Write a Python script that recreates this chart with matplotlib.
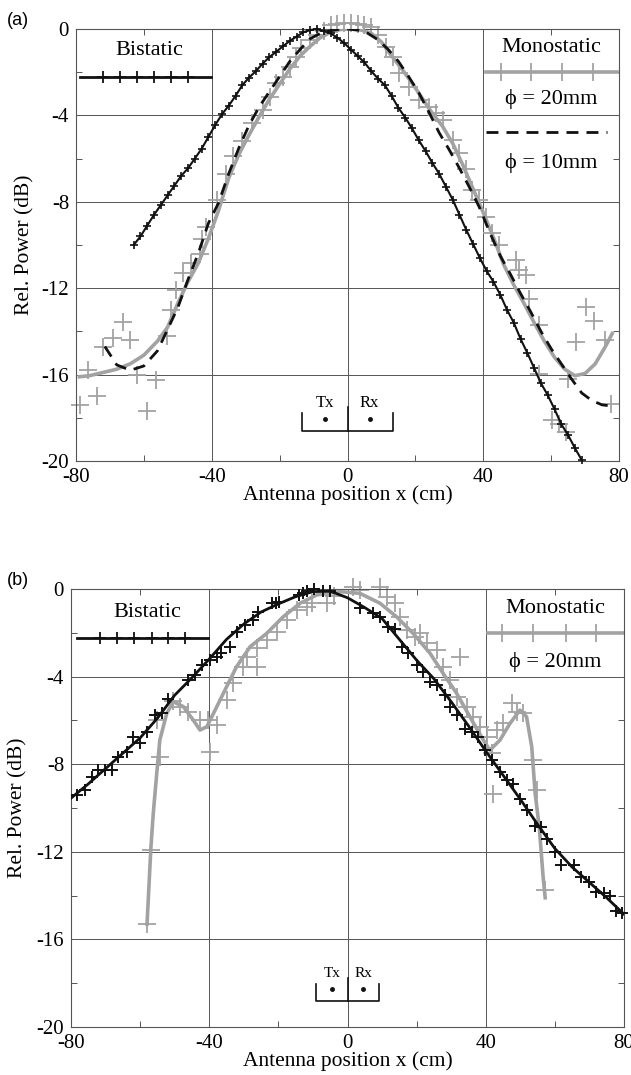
"""Bistatic vs monostatic antenna scans: relative received power vs antenna position.

Two panels: (a) phi = 20 mm and 10 mm targets, (b) phi = 20 mm target only.
Writes out.png (631 x 1075 px).
"""

import matplotlib.pyplot as plt

plt.rcParams["font.family"] = ["Liberation Serif", "DejaVu Serif"]
plt.rcParams["axes.unicode_minus"] = False

BLACK = "#111111"
GREY = "#a2a2a2"
GRID = "#555555"

# ---------------------------------------------------------------- panel (a)
# bistatic measurement (black +, joined by the fit line)
bi_a_x = [-63, -61, -59, -57, -55, -53, -51, -49, -47, -45, -43, -41, -39, -37,
          -35, -33, -31, -29, -27, -25, -23, -21, -19, -17, -15, -13, -11, -9,
          -7, -5, -3, -1, 1, 3, 5, 7, 9, 11, 13, 15, 17, 19, 21, 23, 25, 27, 29,
          31, 33, 35, 37, 39, 41, 43, 45, 47, 49, 51, 53, 55, 57, 59, 61, 63,
          65, 67, 69]
bi_a_y = [-10.0, -9.6, -9.1, -8.6, -8.15, -7.7, -7.25, -6.8, -6.45, -6.0, -5.55,
          -5.0, -4.45, -3.95, -3.55, -3.1, -2.6, -2.25, -1.95, -1.6, -1.3, -1.05,
          -0.8, -0.55, -0.35, -0.15, -0.05, 0.0, -0.1, -0.2, -0.4, -0.65, -0.95,
          -1.25, -1.55, -1.95, -2.3, -2.6, -3.1, -3.65, -4.1, -4.6, -5.15, -5.65,
          -6.2, -6.7, -7.3, -7.9, -8.6, -9.3, -9.95, -10.6, -11.2, -11.7, -12.3,
          -13.0, -13.6, -14.35, -15.0, -15.7, -16.4, -16.95, -17.6, -18.3, -18.8,
          -19.4, -19.95]

# monostatic phi = 20 mm: fit line
mono20_a_fit_x = [-79, -76, -72, -68, -64, -60, -56, -53, -50, -47, -44, -41, -38,
                  -35, -32, -29, -26, -23, -20, -17, -14, -11, -8, -5, -2, 1, 4,
                  7, 10, 13, 16, 19, 22, 25, 28, 31, 34, 37, 40, 43, 46, 49, 52,
                  55, 58, 61, 64, 67, 70, 73, 76, 78]
mono20_a_fit_y = [-16.1, -16.05, -15.9, -15.75, -15.5, -15.1, -14.45, -13.8, -12.7,
                  -11.7, -10.85, -9.7, -8.4, -6.9, -5.8, -4.9, -4.05, -3.25, -2.55,
                  -1.85, -1.25, -0.8, -0.4, -0.15, -0.02, 0.0, -0.05, -0.2, -0.6,
                  -1.25, -1.85, -2.5, -3.2, -3.9, -4.5, -5.3, -6.3, -7.4, -8.5,
                  -9.65, -10.9, -11.85, -12.7, -13.6, -14.45, -15.2, -15.75,
                  -16.05, -15.95, -15.5, -14.7, -14.1]

# monostatic phi = 20 mm: measured points (grey +)
mono20_a_x = [-78.8, -76.4, -73.9, -72.0, -69.0, -66.1, -64.1, -62.1, -59.2, -56.3,
              -53.3, -51.9, -50.4, -48.5, -46.0, -43.5, -43.0, -41.6, -38.6, -35.7,
              -33.8, -31.0, -28.0, -24.9, -22.9, -21.0, -19.0, -17.0, -15.1, -13.6,
              -11.0, -9.0, -7.0, -5.0, -3.0, -1.0, 1.0, 3.0, 5.0, 7.0, 9.0, 11.4,
              13.3, 15.3, 18.2, 21.2, 24.1, 26.1, 28.0, 31.0, 32.9, 34.9, 36.8,
              38.8, 40.8, 42.7, 44.7, 49.6, 50.6, 52.5, 53.5, 56.5, 56.5, 60.4,
              62.4, 64.3, 65.0, 67.3, 70.2, 72.6, 76.0, 77.5]
mono20_a_y = [-17.4, -15.8, -17.0, -14.7, -14.3, -13.55, -14.4, -16.0, -17.7, -16.25,
              -14.2, -13.0, -12.1, -11.3, -10.85, -10.4, -9.7, -9.15, -7.9, -6.7,
              -5.9, -5.2, -4.36, -3.75, -3.13, -2.5, -2.2, -1.75, -1.28, -0.9,
              -0.5, -0.3, -0.1, 0.2, 0.25, 0.3, 0.3, 0.25, 0.2, 0.1, -0.3, -0.82,
              -1.28, -2.05, -2.67, -3.29, -3.6, -3.9, -4.2, -5.14, -5.76, -6.5,
              -7.45, -7.9, -8.7, -9.45, -10.0, -10.7, -11.15, -11.4, -12.5, -13.7,
              -15.95, -18.1, -18.3, -18.65, -16.2, -14.5, -12.85, -13.5, -14.4,
              -17.35]

# monostatic phi = 10 mm: fit line (dashed)
mono10_a_x = [-71.5, -68, -64, -60, -56, -53, -50, -47, -44, -41, -38, -35, -32,
              -29, -26, -23, -20, -17, -14, -11, -8, -5, -2, 0, 3, 6, 9, 12, 15,
              18, 21, 24, 27, 30, 33, 36, 39, 42, 45, 48, 51, 54, 57, 60, 63, 66,
              69, 72, 75, 77.5]
mono10_a_y = [-14.7, -15.55, -15.8, -15.6, -14.9, -13.9, -12.9, -11.6, -10.4, -9.0,
              -8.05, -6.7, -5.5, -4.45, -3.6, -2.9, -2.2, -1.5, -0.95, -0.45, -0.2,
              -0.08, 0.0, 0.0, -0.05, -0.2, -0.5, -0.95, -1.5, -2.2, -2.95, -3.85,
              -4.8, -5.6, -6.45, -7.35, -8.3, -9.45, -10.5, -11.35, -12.25, -13.1,
              -14.0, -14.8, -15.5, -16.2, -16.85, -17.2, -17.4, -17.45]

# ---------------------------------------------------------------- panel (b)
bi_b_fit_x = [-80, -75, -70, -65, -60, -55, -50, -45, -40, -35, -30, -25, -20, -15,
              -10, -5, 0, 5, 10, 15, 20, 25, 30, 35, 40, 45, 50, 55, 60, 65, 70,
              75, 80]
bi_b_fit_y = [-9.55, -8.9, -8.2, -7.5, -6.8, -5.9, -4.85, -4.05, -3.2, -2.3, -1.6,
              -1.05, -0.68, -0.35, -0.12, -0.1, -0.4, -0.85, -1.35, -2.3, -3.25,
              -4.1, -5.15, -6.25, -7.4, -8.5, -9.6, -10.75, -11.85, -12.7, -13.4,
              -14.1, -14.85]

bi_b_x = [-78.4, -75.9, -74.0, -72.1, -70.2, -68.2, -66.3, -63.9, -62.0, -60.0,
          -58.1, -55.7, -53.8, -51.9, -46.1, -44.1, -42.2, -39.8, -37.8, -36.5,
          -34.0, -32.1, -29.6, -27.3, -25.8, -21.9, -20.8, -19.7, -14.0, -12.8,
          -11.7, -9.7, -7.0, -5.0, 3.6, 7.5, 9.4, 11.8, 13.7, 15.7, 17.6, 20.0,
          21.9, 23.9, 25.8, 28.2, 29.7, 31.6, 34.0, 35.9, 37.8, 39.8, 41.7, 44.1,
          46.1, 48.0, 49.9, 51.8, 54.3, 56.0, 57.8, 60.1, 61.9, 65.4, 67.7, 70.0,
          71.8, 74.1, 75.9, 77.6, 79.4]
bi_b_y = [-9.4, -9.2, -8.58, -8.27, -8.27, -8.27, -7.66, -7.43, -6.75, -7.05, -6.52,
          -5.76, -5.68, -5.0, -4.16, -3.93, -3.47, -3.24, -3.09, -2.9, -2.64,
          -1.95, -1.64, -1.42, -1.04, -0.65, -0.65, -0.6, -0.27, -0.2, -0.1, 0.0,
          -0.08, -0.08, -0.88, -1.1, -1.26, -1.72, -1.83, -2.64, -2.94, -3.47,
          -3.78, -4.24, -4.39, -4.84, -5.37, -5.76, -6.37, -6.52, -6.75, -7.36,
          -7.82, -8.35, -8.73, -8.9, -9.57, -10.1, -10.8, -10.87, -11.4, -12.0,
          -12.6, -12.6, -13.15, -13.4, -13.85, -13.9, -14.0, -14.7, -14.8]

mono_b_fit_x = [-58.0, -56.9, -56.2, -55.2, -54.3, -52.3, -50.4, -47.5, -44.6, -42.7,
                -40.7, -37.8, -35.0, -32.1, -28.2, -23.4, -18.6, -13.7, -8.9, -2.2,
                3.6, 9.4, 14.2, 19.0, 23.9, 27.7, 31.6, 35.4, 39.3, 41.2, 44.1,
                47.0, 49.9, 51.8, 53.3, 54.3, 55.5, 56.6, 57.2]
mono_b_fit_y = [-15.3, -11.85, -10.25, -8.43, -6.9, -5.68, -5.15, -5.37, -5.99, -6.44,
                -6.29, -5.37, -4.47, -3.55, -2.64, -2.03, -1.27, -0.65, -0.27,
                -0.12, -0.2, -0.65, -1.27, -2.03, -2.94, -3.86, -4.77, -5.83, -6.9,
                -7.36, -6.9, -6.14, -5.53, -5.83, -7.2, -9.34, -10.9, -13.15, -14.1]

mono_b_x = [-58.0, -56.9, -55.2, -54.3, -50.4, -48.5, -46.1, -42.7, -40.3, -39.8,
            -37.8, -35.0, -33.0, -30.1, -29.2, -26.3, -26.3, -23.4, -20.5, -17.6,
            -14.7, -11.8, -10.3, -6.0, -4.0, 1.7, 3.6, 9.4, 11.4, 13.7, 15.2, 17.1,
            19.5, 20.9, 22.9, 25.8, 27.7, 29.7, 31.6, 32.5, 34.5, 36.4, 38.3, 40.3,
            41.7, 42.2, 43.2, 45.1, 47.5, 49.0, 50.9, 53.8, 54.7, 57.2]
mono_b_y = [-15.3, -11.9, -6.0, -7.66, -5.1, -5.37, -5.6, -6.0, -6.0, -7.43, -6.2,
            -5.07, -4.31, -3.55, -3.09, -3.55, -2.71, -2.33, -1.95, -1.42, -0.96,
            -0.81, -0.65, -0.65, -0.3, 0.1, -0.03, 0.1, -0.35, -0.65, -1.27, -1.87,
            -2.18, -2.0, -2.48, -2.79, -3.55, -4.16, -4.92, -3.09, -5.37, -5.83,
            -6.29, -6.75, -7.5, -9.34, -6.44, -6.14, -5.22, -5.6, -5.68, -7.82,
            -9.2, -13.75]

# axis ticks
X_MAJOR = [-80, -40, 0, 40, 80]
X_MINOR = [-60, -20, 20, 60]
Y_MAJOR = [0, -4, -8, -12, -16, -20]
Y_MINOR = [-2, -6, -10, -14, -18]


def style_axes(ax):
    ax.set_xlim(-80, 80)
    ax.set_ylim(-20, 0)
    ax.set_xticks(X_MAJOR)
    ax.set_xticks(X_MINOR, minor=True)
    ax.set_yticks(Y_MAJOR)
    ax.set_yticks(Y_MINOR, minor=True)
    ax.grid(True, which="major", color=GRID, linewidth=0.7)
    ax.tick_params(which="both", direction="in", top=True, right=True,
                   labelsize=15, color=GRID)
    ax.tick_params(which="major", length=0, pad=5)
    ax.tick_params(which="minor", length=4, width=0.7)
    for s in ax.spines.values():
        s.set_linewidth(0.8)
        s.set_color(GRID)
    ax.set_xlabel("Antenna position x (cm)", fontsize=15.5)
    ax.set_ylabel("Rel. Power (dB)", fontsize=15.5)


def tx_rx(ax, half, dot, y_txt, y_top, y_bot, fs=12):
    """Small Tx / Rx antenna schematic."""
    kw = dict(color=BLACK, lw=1.2, clip_on=False)
    ax.plot([-half, -half, half, half], [y_top, y_bot, y_bot, y_top], **kw)
    ax.plot([0, 0], [y_top + 0.3, y_bot], **kw)
    ax.plot([-dot, dot], [(y_top + y_bot) / 2 + 0.15] * 2, "o", color=BLACK, ms=2.5)
    ax.text(-dot, y_txt, "Tx", ha="center", va="center", fontsize=fs)
    ax.text(dot, y_txt, "Rx", ha="center", va="center", fontsize=fs)


fig = plt.figure(figsize=(6.31, 10.75), dpi=100)

# ---------------------------------------------------------------- (a)
ax = fig.add_axes([76 / 631, 1 - 461 / 1075, 543 / 631, 432 / 1075])
style_axes(ax)
ax.plot(mono20_a_x, mono20_a_y, "+", color=GREY, ms=13, mew=1.3, clip_on=False, zorder=2)
ax.plot(mono20_a_fit_x, mono20_a_fit_y, color=GREY, lw=2.6, zorder=3)
ax.plot(mono10_a_x, mono10_a_y, color=BLACK, lw=2, dashes=(4.3, 2.9), zorder=4)
ax.plot(bi_a_x, bi_a_y, "-+", color=BLACK, lw=1.5, ms=6, mew=1.2, zorder=5,
        clip_on=False)

# legend cells
ax.text(-58.5, -1.0, "Bistatic", ha="center", va="center", fontsize=16)
ax.plot([-78.8, -40.3], [-2.2, -2.2], color=BLACK, lw=2)
ax.plot([-72, -67, -62, -57, -52, -47], [-2.2] * 6, "+", color=BLACK, ms=8, mew=1.3)
ax.text(60, -0.85, "Monostatic", ha="center", va="center", fontsize=16)
ax.plot([40.8, 79.4], [-2.0, -2.0], color=GREY, lw=2.6)
ax.plot([45.2, 54, 63.1, 72.4], [-2.0] * 4, "+", color=GREY, ms=13, mew=1.3)
ax.text(60, -3.25, "\u03d5 = 20mm", ha="center", va="center", fontsize=16)
ax.plot([40.8, 76.5], [-4.75, -4.75], color=BLACK, lw=2, dashes=(4.3, 2.9))
ax.text(60, -6.2, "\u03d5 = 10mm", ha="center", va="center", fontsize=16)

tx_rx(ax, 13.5, 6.5, -17.3, -17.8, -18.6)
ax.xaxis.set_label_coords(0.5, -0.056)
ax.yaxis.set_label_coords(-0.076, 0.5)
fig.text(0.011, 0.989, "(a)", family="Liberation Sans", fontsize=13, va="top")

# ---------------------------------------------------------------- (b)
ax = fig.add_axes([71 / 631, 1 - 1027 / 1075, 553 / 631, 438 / 1075])
style_axes(ax)
ax.plot(mono_b_x, mono_b_y, "+", color=GREY, ms=13, mew=1.3, clip_on=False, zorder=2)
ax.plot(mono_b_fit_x, mono_b_fit_y, color=GREY, lw=2.6, zorder=3)
ax.plot(bi_b_fit_x, bi_b_fit_y, color=BLACK, lw=2, zorder=4)
ax.plot(bi_b_x, bi_b_y, "+", color=BLACK, ms=9, mew=1.4, zorder=5, clip_on=False)

ax.text(-57.8, -1.08, "Bistatic", ha="center", va="center", fontsize=16)
ax.plot([-78.4, -40.4], [-2.24, -2.24], color=BLACK, lw=2)
ax.plot([-71.6, -66.8, -61.7, -56.7, -51.9, -47], [-2.24] * 6, "+", color=BLACK,
        ms=8, mew=1.3)
ax.text(60, -0.87, "Monostatic", ha="center", va="center", fontsize=16)
ax.plot([40.6, 79.7], [-2.0, -2.0], color=GREY, lw=2.6)
ax.plot([44.6, 53.8, 63.2, 71.9], [-2.0] * 4, "+", color=GREY, ms=13, mew=1.3)
ax.text(60, -3.34, "\u03d5 = 20mm", ha="center", va="center", fontsize=16)

tx_rx(ax, 9, 4.5, -17.55, -18.05, -18.8, fs=11)
ax.xaxis.set_label_coords(0.5, -0.056)
ax.yaxis.set_label_coords(-0.078, 0.5)
fig.text(0.011, 0.468, "(b)", family="Liberation Sans", fontsize=13, va="top")

fig.savefig("out.png", dpi=100)
